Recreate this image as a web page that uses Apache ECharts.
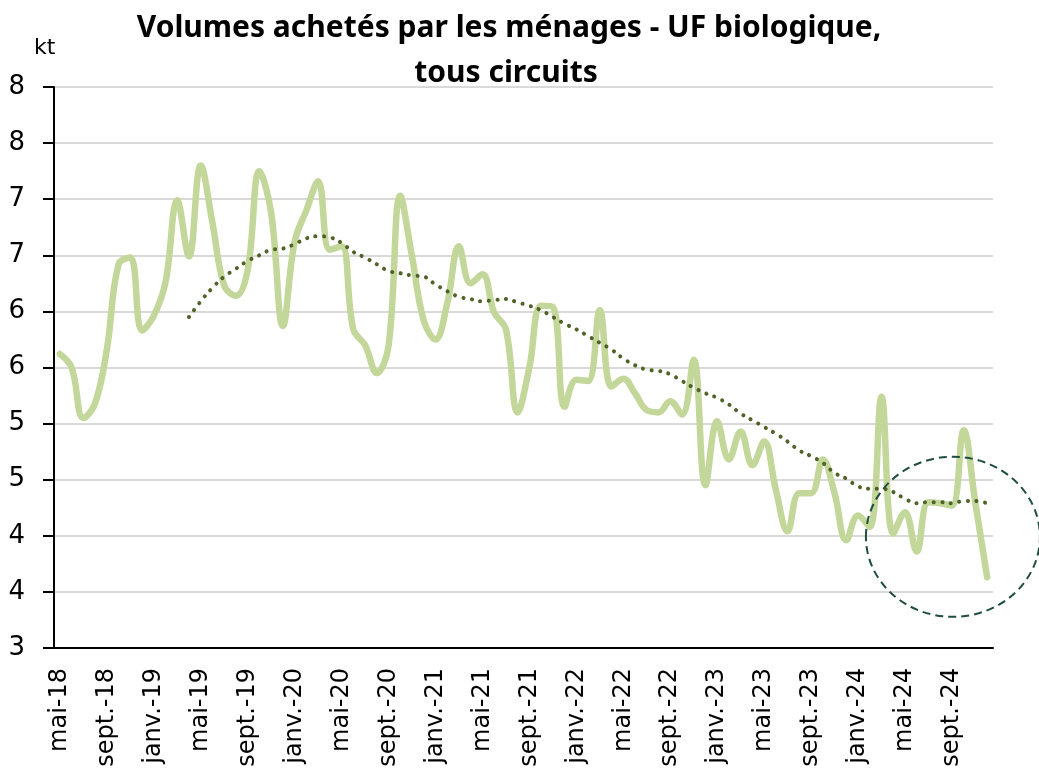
<!DOCTYPE html>
<html>
<head>
<meta charset="utf-8">
<script src="https://cdn.jsdelivr.net/npm/echarts@6/dist/echarts.min.js"></script>
<style>
  html, body { margin: 0; padding: 0; background: #fff; }
  #chart { width: 1039px; height: 769px; }
</style>
</head>
<body>
<div id="chart"></div>
<script>
// mois, de mai 2018 à décembre 2024
const months = [
  "mai-18", "juin-18", "juil.-18", "août-18", "sept.-18", "oct.-18", "nov.-18", "déc.-18",
  "janv.-19", "févr.-19", "mars-19", "avr.-19", "mai-19", "juin-19", "juil.-19", "août-19", "sept.-19", "oct.-19", "nov.-19", "déc.-19",
  "janv.-20", "févr.-20", "mars-20", "avr.-20", "mai-20", "juin-20", "juil.-20", "août-20", "sept.-20", "oct.-20", "nov.-20", "déc.-20",
  "janv.-21", "févr.-21", "mars-21", "avr.-21", "mai-21", "juin-21", "juil.-21", "août-21", "sept.-21", "oct.-21", "nov.-21", "déc.-21",
  "janv.-22", "févr.-22", "mars-22", "avr.-22", "mai-22", "juin-22", "juil.-22", "août-22", "sept.-22", "oct.-22", "nov.-22", "déc.-22",
  "janv.-23", "févr.-23", "mars-23", "avr.-23", "mai-23", "juin-23", "juil.-23", "août-23", "sept.-23", "oct.-23", "nov.-23", "déc.-23",
  "janv.-24", "févr.-24", "mars-24", "avr.-24", "mai-24", "juin-24", "juil.-24", "août-24", "sept.-24", "oct.-24", "nov.-24", "déc.-24"
];

// volumes mensuels (kt)
const volumes = [
  5.62, 5.50, 5.05, 5.18, 5.66, 6.42, 6.48, 5.83,
  5.96, 6.26, 6.99, 6.49, 7.30, 6.79, 6.23, 6.14, 6.37, 7.25, 6.88, 5.87,
  6.62, 6.90, 7.16, 6.55, 6.58, 5.84, 5.70, 5.45, 5.69, 7.03, 6.49, 5.92,
  5.75, 6.07, 6.58, 6.25, 6.33, 5.99, 5.84, 5.10, 5.50, 6.05, 6.04, 5.15,
  5.39, 5.38, 6.01, 5.33, 5.40, 5.27, 5.12, 5.10, 5.20, 5.08, 5.57, 4.45,
  5.02, 4.68, 4.93, 4.63, 4.84, 4.41, 4.04, 4.38, 4.38, 4.68, 4.38, 3.96,
  4.18, 4.08, 5.24, 4.02, 4.21, 3.86, 4.30, 4.29, 4.27, 4.94, 4.29, 3.63
];

// tendance (moyenne mobile 12 mois)
const tendance = [
  null, null, null, null, null, null, null, null,
  null, null, null, 5.95, 6.09, 6.21, 6.31, 6.38, 6.45, 6.50, 6.55, 6.56,
  6.60, 6.65, 6.67, 6.66, 6.61, 6.53, 6.48, 6.42, 6.36, 6.34, 6.32, 6.31,
  6.24, 6.18, 6.13, 6.11, 6.09, 6.10, 6.11, 6.08, 6.05, 6.01, 5.95, 5.89,
  5.84, 5.78, 5.72, 5.66, 5.58, 5.52, 5.48, 5.47, 5.44, 5.38, 5.32, 5.27,
  5.23, 5.17, 5.09, 5.03, 4.97, 4.91, 4.84, 4.76, 4.71, 4.65, 4.56, 4.51,
  4.44, 4.42, 4.42, 4.39, 4.33, 4.29, 4.30, 4.30, 4.29, 4.31, 4.31, 4.29
];

const titleLine1 = "Volumes achetés par les ménages - UF biologique,";
const titleLine2 = "tous circuits";
const unit = "kt";

// zone entourée (centre)
const circleMonth = "sept.-24";
const circleValue = 4.0;

const titleFont = "Noto Sans";
const font = "DejaVu Sans";
const chart = echarts.init(document.getElementById("chart"));

chart.setOption({
  animation: false,
  backgroundColor: "#fff",
  textStyle: { fontFamily: font },
  title: [
    {
      text: titleLine1,
      left: 504,
      top: 8,
      textAlign: "center",
      textStyle: { fontFamily: titleFont, fontWeight: "bold", fontSize: 30, color: "#000" },
    },
    {
      text: titleLine2,
      left: 501,
      top: 53,
      textAlign: "center",
      textStyle: { fontFamily: titleFont, fontWeight: "bold", fontSize: 30, color: "#000" },
    },
  ],
  grid: {
    left: 54,
    right: 46,
    top: 87,
    bottom: 121,
    containLabel: false,
    outerBoundsMode: "none",
  },
  xAxis: {
    type: "category",
    data: months,
    boundaryGap: true,
    axisLine: { lineStyle: { color: "#000", width: 2 } },
    axisTick: { interval: 3, length: 10, lineStyle: { color: "#000", width: 2 } },
    axisLabel: {
      interval: 3,
      rotate: 90,
      margin: 20,
      fontSize: 24,
      color: "#000",
      fontFamily: font,
    },
    splitLine: { show: false },
  },
  yAxis: {
    type: "value",
    min: 3,
    max: 8,
    interval: 0.5,
    axisLine: { show: true, lineStyle: { color: "#000", width: 2 } },
    axisTick: { show: true, length: 11, lineStyle: { color: "#000", width: 2 } },
    axisLabel: {
      margin: 29,
      fontSize: 26,
      color: "#000",
      fontFamily: font,
      formatter: (v) => Math.round(v),
    },
    splitLine: { lineStyle: { color: "#d9d9d9", width: 2 } },
  },
  series: [
    {
      name: "Volumes",
      type: "line",
      data: volumes,
      smooth: 0.4,
      showSymbol: false,
      lineStyle: { color: "#c4d79b", width: 6.5, cap: "round", join: "round" },
      z: 2,
    },
    {
      name: "Tendance",
      type: "line",
      data: tendance,
      smooth: 0.4,
      showSymbol: false,
      connectNulls: false,
      lineStyle: { color: "#4f6228", width: 4, type: [0.1, 8.5], cap: "round" },
      z: 3,
    },
  ],
});

// cercle en pointillés autour de la fin de période
const c = chart.convertToPixel({ xAxisIndex: 0, yAxisIndex: 0 }, [circleMonth, circleValue]);
chart.setOption({
  graphic: [
    {
      type: "text",
      left: 34,
      top: 37,
      style: { text: unit, fontSize: 22, fontFamily: font, fill: "#000" },
    },
    {
      type: "ellipse",
      shape: { cx: c[0] + 1, cy: c[1] + 1, rx: 87, ry: 80 },
      style: { fill: "none", stroke: "#1f4e3d", lineWidth: 2, lineDash: [8, 5] },
      z: 100,
    },
  ],
});
</script>
</body>
</html>
